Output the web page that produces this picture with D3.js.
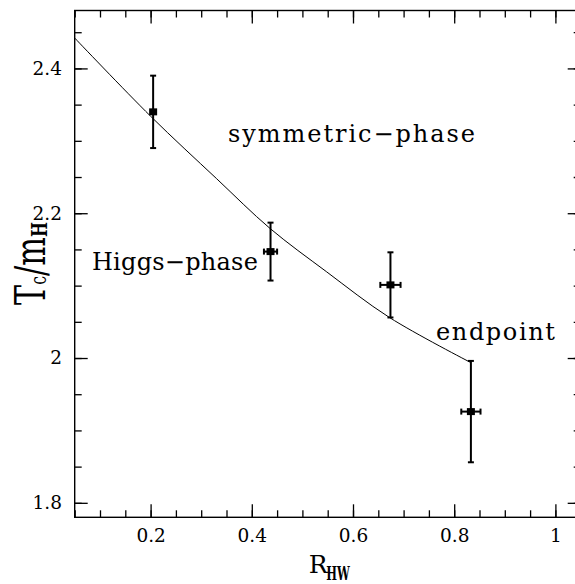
<!DOCTYPE html>
<html>
<head>
<meta charset="utf-8">
<script src="https://cdn.jsdelivr.net/npm/d3@7"></script>
<style>
    body { margin: 0; background: #fff; }
    text { font-family: "DejaVu Serif", serif; fill: #000; }
</style>
</head>
<body>
<div id="chart"></div>
<script>
// measured points (R_HW, Tc/mH) with errors
const rhw = [0.205, 0.437, 0.674, 0.833];
const tcm = [2.340, 2.147, 2.101, 1.926];
const rhwErr = [0, 0.013, 0.02, 0.019];
const tcmErr = [0.05, 0.04, 0.045, 0.07];

// fitted curve
const curveX = [0.05, 0.2, 0.33, 0.436, 0.548, 0.672, 0.832];
const curveY = [2.442, 2.334, 2.248, 2.179, 2.119, 2.056, 1.994];

// axis ticks
const xMajor = [0.2, 0.4, 0.6, 0.8, 1.0];
const xMinor = d3.range(0.05, 1.051, 0.05);
const yMajor = [1.8, 2.0, 2.2, 2.4];
const yMinor = d3.range(1.8, 2.48, 0.05);

// text labels inside the plot (data coords of left baseline)
const labelText = ["symmetric\u2212phase", "Higgs\u2212phase", "endpoint"];
const labelX = [0.353, 0.084, 0.764];
const labelY = [2.299, 2.121, 2.025];

class TcVis {
    constructor(_parentElement) {
        this.parentElement = _parentElement;
        this.initVis();
    }

    initVis() {
        let vis = this;

        vis.margin = { top: 10.5, right: -5.7, bottom: 66.7, left: 74.7 };
        vis.width = 575 - vis.margin.left - vis.margin.right;
        vis.height = 584 - vis.margin.top - vis.margin.bottom;

        vis.svg = d3.select("#" + vis.parentElement).append("svg")
            .attr("width", 575)
            .attr("height", 584)
            .append("g")
            .attr("transform", "translate(" + vis.margin.left + "," + vis.margin.top + ")");

        // Scales
        vis.x = d3.scaleLinear().domain([0.05, 1.05]).range([0, vis.width]);
        vis.y = d3.scaleLinear().domain([1.78, 2.48]).range([vis.height, 0]);

        let fmt = d => String(+d.toFixed(2));

        // ticks on all four sides, pointing inwards
        let axes = [
            { ax: d3.axisBottom, tr: "translate(0," + vis.height + ")", sc: vis.x, lab: true, ys: false },
            { ax: d3.axisTop, tr: "translate(0,0)", sc: vis.x, lab: false, ys: false },
            { ax: d3.axisLeft, tr: "translate(0,0)", sc: vis.y, lab: true, ys: true },
            { ax: d3.axisRight, tr: "translate(" + vis.width + ",0)", sc: vis.y, lab: false, ys: true }
        ];
        axes.forEach(a => {
            let major = a.ys ? yMajor : xMajor;
            let minor = a.ys ? yMinor : xMinor;
            let gMin = vis.svg.append("g").attr("transform", a.tr)
                .call(a.ax(a.sc).tickValues(minor).tickSize(-7).tickFormat(""));
            let gMaj = vis.svg.append("g").attr("transform", a.tr)
                .call(a.ax(a.sc).tickValues(major).tickSize(-13).tickPadding(a.ys ? 12.7 : 12)
                    .tickFormat(a.lab ? fmt : ""));
            [gMin, gMaj].forEach(g => {
                g.select(".domain").remove();
                g.selectAll("line").attr("stroke", "#000").attr("stroke-width", 1.3);
                g.selectAll("text").style("font-size", "18.5px").attr("fill", "#000")
                    .style("font-family", "DejaVu Serif");
            });
        });

        // frame
        vis.svg.append("rect")
            .attr("width", vis.width)
            .attr("height", vis.height)
            .attr("fill", "none")
            .attr("stroke", "#000")
            .attr("stroke-width", 1.4);

        // axis titles
        let xt = vis.svg.append("g")
            .attr("transform", "translate(" + (vis.width / 2 - 19) + "," + (vis.height + 55.7) + ")");
        xt.append("text").attr("x", 0).attr("y", 0).style("font-size", "25px").text("R");
        xt.append("text")
            .attr("transform", "translate(17.5,7) scale(0.6,1)")
            .style("font-size", "19px").style("font-weight", "bold").text("HW");

        let yt = vis.svg.append("g")
            .attr("transform", "translate(" + (45 - vis.margin.left) + "," + (305 - vis.margin.top) + ") rotate(-90)");
        let ytt = yt.append("text").attr("transform", "scale(0.72,1)").style("font-size", "42px");
        ytt.append("tspan").text("T");
        ytt.append("tspan").attr("dy", 1).style("font-size", "22px").text("c");
        ytt.append("tspan").attr("dy", -1).text("/m");
        ytt.append("tspan").attr("dy", 2).style("font-size", "22px").style("font-weight", "bold").text("H");

        vis.updateVis();
    }

    updateVis() {
        let vis = this;

        // curve
        vis.line = d3.line()
            .x(d => vis.x(d[0]))
            .y(d => vis.y(d[1]))
            .curve(d3.curveCatmullRom);

        vis.svg.append("path")
            .datum(d3.zip(curveX, curveY))
            .attr("d", vis.line)
            .attr("fill", "none")
            .attr("stroke", "#000")
            .attr("stroke-width", 1);

        // error bars and markers
        let pts = d3.range(rhw.length).map(i => ({ x: rhw[i], y: tcm[i], ex: rhwErr[i], ey: tcmErr[i] }));
        let g = vis.svg.selectAll(".pt").data(pts).enter().append("g").attr("class", "pt");

        g.append("line")
            .attr("x1", d => vis.x(d.x)).attr("x2", d => vis.x(d.x))
            .attr("y1", d => vis.y(d.y - d.ey)).attr("y2", d => vis.y(d.y + d.ey));
        [-1, 1].forEach(s => {
            g.append("line")
                .attr("x1", d => vis.x(d.x) - 3).attr("x2", d => vis.x(d.x) + 3)
                .attr("y1", d => vis.y(d.y + s * d.ey)).attr("y2", d => vis.y(d.y + s * d.ey));
        });
        g.filter(d => d.ex > 0).append("line")
            .attr("x1", d => vis.x(d.x - d.ex)).attr("x2", d => vis.x(d.x + d.ex))
            .attr("y1", d => vis.y(d.y)).attr("y2", d => vis.y(d.y));
        [-1, 1].forEach(s => {
            g.filter(d => d.ex > 0).append("line")
                .attr("x1", d => vis.x(d.x + s * d.ex)).attr("x2", d => vis.x(d.x + s * d.ex))
                .attr("y1", d => vis.y(d.y) - 3).attr("y2", d => vis.y(d.y) + 3);
        });
        g.selectAll("line").attr("stroke", "#000").attr("stroke-width", 2);

        g.append("rect")
            .attr("x", d => vis.x(d.x) - 4)
            .attr("y", d => vis.y(d.y) - 3.5)
            .attr("width", 8)
            .attr("height", 7)
            .attr("fill", "#000");

        // labels, stretched a little to the wider face of the original
        let labelWidth = [247, 166, 119];
        vis.svg.selectAll(".lab")
            .data(labelText)
            .enter().append("text")
            .attr("class", "lab")
            .attr("x", (d, i) => vis.x(labelX[i]))
            .attr("y", (d, i) => vis.y(labelY[i]))
            .attr("textLength", (d, i) => labelWidth[i])
            .attr("lengthAdjust", "spacing")
            .style("font-size", "24px")
            .text(d => d);
    }
}

new TcVis("chart");
</script>
</body>
</html>
